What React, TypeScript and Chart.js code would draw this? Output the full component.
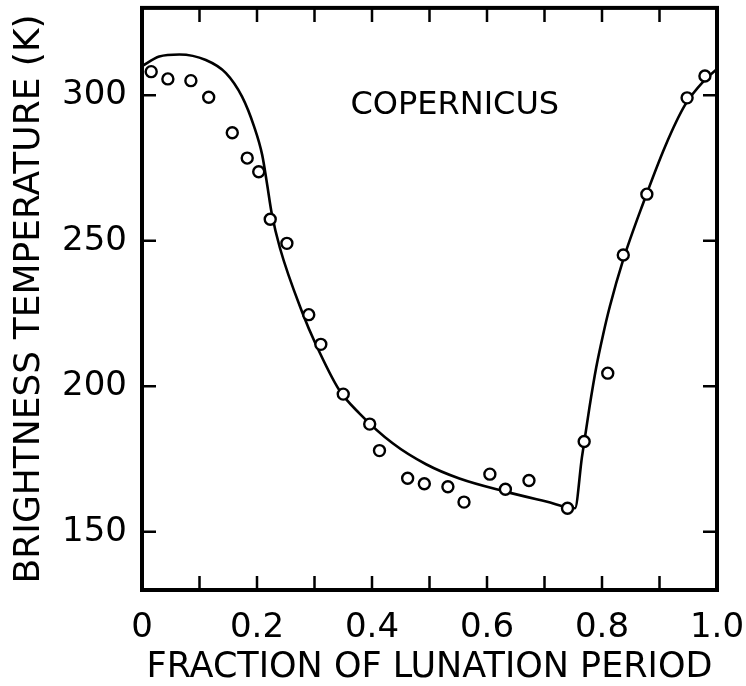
import React, { useEffect, useRef } from 'react';
import { Chart, registerables } from 'chart.js';

Chart.register(...registerables);

const FONT = '"DejaVu Sans", sans-serif';

// Model curve (fraction of lunation period, brightness temperature K)
const curveX = [0, 0.03, 0.065, 0.111, 0.146, 0.174, 0.195, 0.209, 0.2175, 0.2255, 0.2399, 0.2793, 0.3014, 0.343, 0.378, 0.436, 0.494, 0.552, 0.632, 0.703, 0.753, 0.765, 0.778, 0.790, 0.802, 0.8136, 0.8368, 0.8716, 0.91, 0.944, 0.979, 1.0];
const curveT = [310, 313.3, 314.0, 312.1, 307.6, 299.5, 289.2, 279.5, 269.5, 259.5, 247.5, 225.1, 214.8, 198.7, 190.7, 180.4, 173.2, 168.3, 163.8, 160.4, 158.1, 175.5, 192.5, 206.5, 217.8, 227.4, 243.4, 262.9, 282.5, 296.5, 305.3, 309.0];

// Observed points
const obsX = [0.016, 0.045, 0.085, 0.116, 0.157, 0.183, 0.203, 0.223, 0.252, 0.290, 0.311, 0.350, 0.396, 0.413, 0.462, 0.491, 0.532, 0.560, 0.605, 0.632, 0.673, 0.740, 0.769, 0.810, 0.837, 0.878, 0.948, 0.979];
const obsT = [308.1, 305.6, 305.0, 299.3, 287.1, 278.4, 273.7, 257.4, 249.1, 224.6, 214.4, 197.3, 187.0, 177.9, 168.4, 166.5, 165.5, 160.2, 169.8, 164.6, 167.6, 158.1, 181.0, 204.5, 245.1, 266.0, 299.1, 306.6];

// Axis ticks
const xTickValues = [0, 0.2, 0.4, 0.6, 0.8, 1.0];
const xTickLabels = ['0', '0.2', '0.4', '0.6', '0.8', '1.0'];
const xMarkValues = [0.1, 0.2, 0.3, 0.4, 0.5, 0.6, 0.7, 0.8, 0.9];
const yTickValues = [150, 200, 250, 300];
const yTickLabels = ['150', '200', '250', '300'];

const xTitle = 'FRACTION OF LUNATION PERIOD';
const yTitle = 'BRIGHTNESS TEMPERATURE (K)';
const annotationText = 'COPERNICUS';
const annotationX = 0.544;
const annotationT = 296.3;

const TICK = 14;

const framePlugin = {
  id: 'frameTicks',
  afterDatasetsDraw(chart: any) {
    const { ctx, chartArea: a, scales } = chart;
    const xs = scales.x;
    const ys = scales.y;
    ctx.save();
    ctx.strokeStyle = '#000';
    ctx.lineCap = 'butt';
    ctx.lineWidth = 2.5;
    ctx.beginPath();
    for (const v of xMarkValues) {
      const px = xs.getPixelForValue(v);
      ctx.moveTo(px, a.bottom);
      ctx.lineTo(px, a.bottom - TICK);
      ctx.moveTo(px, a.top);
      ctx.lineTo(px, a.top + TICK);
    }
    for (const v of yTickValues) {
      const py = ys.getPixelForValue(v);
      ctx.moveTo(a.left, py);
      ctx.lineTo(a.left + TICK, py);
      ctx.moveTo(a.right, py);
      ctx.lineTo(a.right - TICK, py);
    }
    ctx.stroke();
    ctx.lineWidth = 4;
    ctx.strokeRect(a.left, a.top, a.right - a.left, a.bottom - a.top);
    ctx.font = `32px ${FONT}`;
    ctx.fillStyle = '#000';
    ctx.textAlign = 'center';
    ctx.textBaseline = 'middle';
    ctx.fillText(annotationText, xs.getPixelForValue(annotationX), ys.getPixelForValue(annotationT));
    ctx.restore();
  },
};

export default function App() {
  const canvasRef = useRef<HTMLCanvasElement | null>(null);

  useEffect(() => {
    document.body.style.margin = '0';
    const canvas = canvasRef.current;
    if (!canvas) return;
    const curveData = curveX.map((x, i) => ({ x, y: curveT[i] }));
    const obsData = obsX.map((x, i) => ({ x, y: obsT[i] }));

    const chart = new Chart(canvas, {
      type: 'scatter',
      data: {
        datasets: [
          {
            label: 'Observed',
            data: obsData,
            order: 0,
            showLine: false,
            pointStyle: 'circle',
            pointRadius: 5.5,
            pointBorderWidth: 2.4,
            pointBackgroundColor: '#fff',
            pointBorderColor: '#000',
          },
          {
            label: 'Model',
            data: curveData,
            order: 1,
            showLine: true,
            borderColor: '#000',
            borderWidth: 2.6,
            pointRadius: 0,
            cubicInterpolationMode: 'monotone',
            fill: false,
          },
        ],
      },
      options: {
        responsive: false,
        maintainAspectRatio: false,
        animation: false,
        devicePixelRatio: 1,
        layout: { padding: { top: 7, right: 29, left: 0, bottom: 0 } },
        plugins: {
          legend: { display: false },
          tooltip: { enabled: false },
        },
        scales: {
          x: {
            type: 'linear',
            min: 0,
            max: 1,
            grid: { display: false, drawTicks: false },
            border: { display: false },
            afterBuildTicks: (scale: any) => {
              scale.ticks = xTickValues.map((v) => ({ value: v }));
            },
            afterFit: (scale: any) => {
              scale.height = 96;
              scale.paddingLeft = 0;
              scale.paddingRight = 0;
              scale.paddingTop = 0;
              scale.paddingBottom = 0;
            },
            ticks: {
              autoSkip: false,
              maxRotation: 0,
              padding: 18,
              color: '#000',
              font: { family: FONT, size: 34 },
              callback: (_v: any, i: number) => xTickLabels[i],
            },
            title: {
              display: true,
              text: xTitle,
              color: '#000',
              font: { family: FONT, size: 35, lineHeight: 1 },
              padding: { top: 0, bottom: 1 },
            },
          },
          y: {
            type: 'linear',
            min: 130,
            max: 330,
            grid: { display: false, drawTicks: false },
            border: { display: false },
            afterBuildTicks: (scale: any) => {
              scale.ticks = yTickValues.map((v) => ({ value: v }));
            },
            afterFit: (scale: any) => {
              scale.width = 142;
              scale.paddingLeft = 0;
              scale.paddingRight = 0;
              scale.paddingTop = 0;
              scale.paddingBottom = 0;
            },
            ticks: {
              autoSkip: false,
              padding: 15,
              color: '#000',
              font: { family: FONT, size: 34 },
              callback: (_v: any, i: number) => yTickLabels[i],
            },
            title: {
              display: true,
              text: yTitle,
              color: '#000',
              font: { family: FONT, size: 36, lineHeight: 1 },
              padding: { top: 12, bottom: 0 },
            },
          },
        },
      },
      plugins: [framePlugin],
    } as any);

    return () => chart.destroy();
  }, []);

  return (
    <div style={{ position: 'fixed', left: 0, top: 0, width: 746, height: 686, background: '#fff' }}>
      <canvas ref={canvasRef} width={746} height={686} style={{ width: 746, height: 686, display: 'block' }} />
    </div>
  );
}
